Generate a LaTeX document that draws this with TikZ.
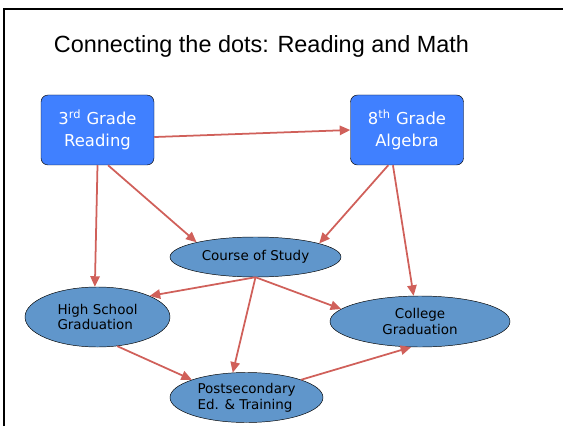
\documentclass[tikz,border=0pt]{standalone}
\usepackage{fontspec}
\setmainfont{DejaVu Sans}
\newfontfamily\titlefont{Liberation Sans}
\usepackage{xcolor}
\usepackage{tikz}
\usetikzlibrary{positioning, arrows.meta, shapes.geometric}

\definecolor{gradeblue}{RGB}{64,128,255}
\definecolor{stepblue}{RGB}{96,150,203}
\definecolor{linkred}{RGB}{208,96,90}

\begin{document}
\begin{tikzpicture}[
    grade/.style={rectangle, rounded corners=6pt, draw, fill=gradeblue, text=white, minimum width=3.39cm, minimum height=2.1cm, align=center, font=\fontsize{14}{18.5}\selectfont},
    outcome/.style={ellipse, draw, fill=stepblue, inner sep=0pt, font=\fontsize{11.5}{13.5}\selectfont},
    link/.style={draw=linkred, line width=1.5pt, -{Triangle[length=9pt, width=8pt]}}
]

\useasboundingbox (0,0) rectangle (16.89,12.78);
\draw[line width=2.5pt] (0.12,0) |- (16.89,12.51);

\node[font=\titlefont\fontsize{20}{24}\selectfont] (title) at (7.845, 11.4) {Connecting the dots: Reading and Math};

\node[grade] (reading) at (2.925, 8.88) {3\textsuperscript{rd} Grade\\Reading};
\node[grade] (algebra) at (12.21, 8.88) {8\textsuperscript{th} Grade\\Algebra};

\node[outcome, minimum width=5.13cm, minimum height=1.2cm] (course) at (7.665, 5.07) {Course of Study};
\node[outcome, minimum width=4.35cm, minimum height=1.8cm, align=left] (highschool) at (2.925, 3.27) {High School\\Graduation};
\node[outcome, minimum width=5.4cm, minimum height=1.53cm, align=center] (college) at (12.6, 3.135) {College\\Graduation};
\node[outcome, minimum width=4.59cm, minimum height=1.5cm, align=left] (postsec) at (7.395, 0.855) {Postsecondary\\Ed. \& Training};

\draw[link] ([yshift=-6pt]reading.east) -- (algebra.west);
\draw[link] (reading.south) -- (highschool.95);
\draw[link] ([xshift=9pt]reading.south) -- (course.166);
\draw[link] ([xshift=-16pt]algebra.south) -- (course.12);
\draw[link] ([xshift=-12pt]algebra.south) -- (college.104);
\draw[link] (course.south) -- (highschool.22);
\draw[link] (course.south) -- (postsec.119);
\draw[link] (course.south) -- (college.171);
\draw[link] (highschool.304) -- (postsec.162);
\draw[link] (postsec.18) -- (college.251);

\end{tikzpicture}
\end{document}
